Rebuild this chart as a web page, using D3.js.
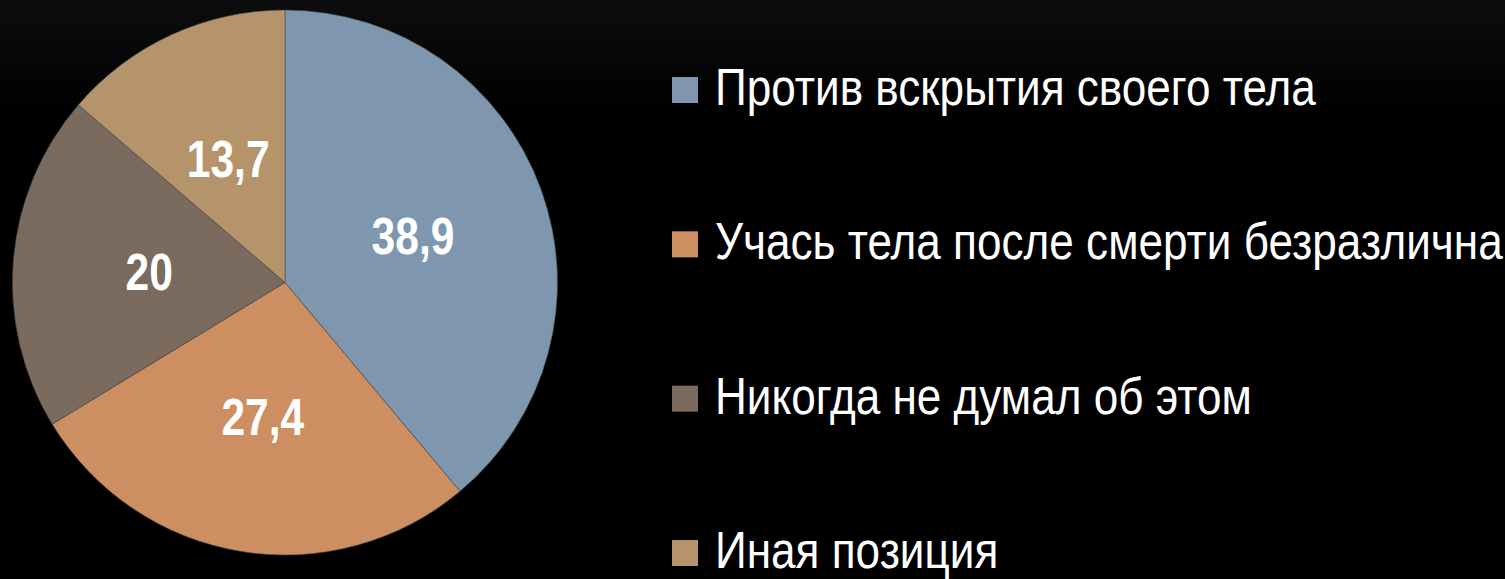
<!DOCTYPE html>
<html><head><meta charset="utf-8">
<script src="https://cdn.jsdelivr.net/npm/d3@7"></script>
<style>
html,body{margin:0;padding:0;background:#000;}
svg{display:block;}
</style></head>
<body>
<svg id="chart" width="1505" height="579"></svg>
<script>
const categories = ["Против вскрытия своего тела","Учась тела после смерти безразлична","Никогда не думал об этом","Иная позиция"];
const values = [38.9, 27.4, 20, 13.7];
const labels = ["38,9", "27,4", "20", "13,7"];
const colors = ["#7F97AE", "#CD8E62", "#7B6A5E", "#B5946C"];

const svg = d3.select("#chart");
const W = 1505, H = 579;
const defs = svg.append("defs");
const grad = defs.append("linearGradient").attr("id","bg").attr("x1",0).attr("y1",0).attr("x2",0).attr("y2",1);
grad.append("stop").attr("offset","0").attr("stop-color","#0d0d0d");
grad.append("stop").attr("offset","0.12").attr("stop-color","#050505");
grad.append("stop").attr("offset","0.2").attr("stop-color","#000");
grad.append("stop").attr("offset","1").attr("stop-color","#000");
svg.append("rect").attr("width",W).attr("height",H).attr("fill","url(#bg)");

const font = "'Liberation Sans',Arial,sans-serif";
const sxLabel = 0.835, sxLegend = 0.865;
const cx = 285, cy = 282.5, R = 272.5;
const pie = d3.pie().sort(null).value(d => d);
const arcs = pie(values);
const arc = d3.arc().innerRadius(0).outerRadius(R);
const labelArc = d3.arc().innerRadius(R*0.5).outerRadius(R*0.5);

const g = svg.append("g").attr("transform",`translate(${cx},${cy})`);
g.selectAll("path").data(arcs).join("path")
  .attr("d", arc)
  .attr("fill", (d,i) => colors[i])
  .attr("stroke", "#4a4a4a")
  .attr("stroke-width", 0.6);

g.selectAll("text").data(arcs).join("text")
  .attr("transform", d => { const c = labelArc.centroid(d); return `translate(${c[0]},${c[1]}) scale(${sxLabel},1)`; })
  .attr("text-anchor","middle")
  .attr("dy","0.36em")
  .attr("fill","#fff")
  .attr("font-family", font)
  .attr("font-weight","bold")
  .attr("font-size", 51)
  .text((d,i) => labels[i]);

const legend = svg.append("g");
const ly = d3.scalePoint().domain(categories).range([90, 553]);
const items = legend.selectAll("g").data(categories).join("g")
  .attr("transform", d => `translate(672,${ly(d)})`);
items.append("rect").attr("x",0).attr("y",-13).attr("width",26).attr("height",26)
  .attr("fill", (d,i) => colors[i]);
items.append("text").attr("transform",`translate(43,15) scale(${sxLegend},1)`)
  .attr("fill","#fff").attr("font-family", font).attr("font-size", 51)
  .text(d => d);
</script>
</body></html>
